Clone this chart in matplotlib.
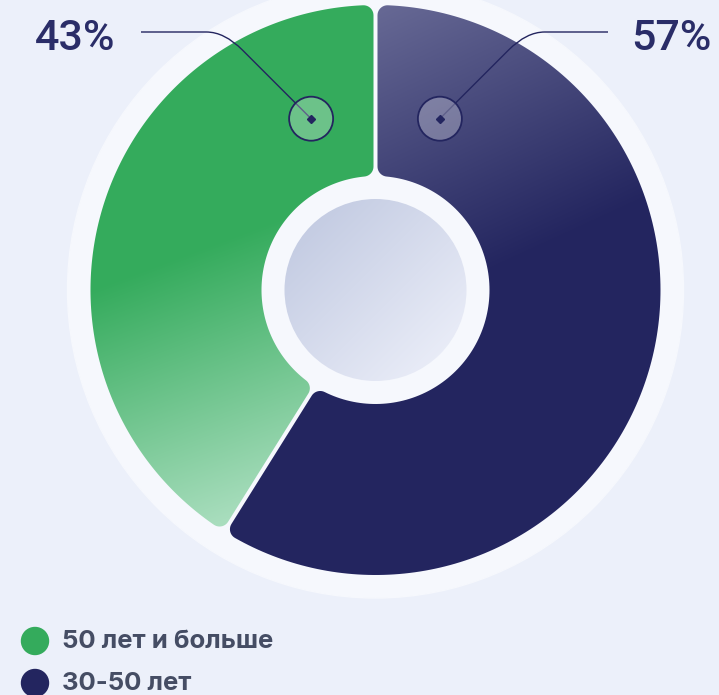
import numpy as np
import matplotlib
matplotlib.use('Agg')
from matplotlib import pyplot as plt
from matplotlib.patches import Circle, Polygon, PathPatch
from matplotlib.path import Path

# data
shares = [41.1, 58.9]            # drawn sweep of each slice (green, navy)
pct_labels = ['43%', '57%']
legend_labels = ['50 лет и больше', '30-50 лет']

W, H = 719, 695
CX, CY = 375.5, 290.0
R_OUT, R_IN, R_HOLE, R_RING = 285.0, 114.0, 91.0, 308.0
GAP, RC = 4.0, 10.0

BG = '#ecf0fa'
RING = '#f6f8fd'
NAVY = '#23255f'
GREEN = '#34ab5c'

plt.rcParams['font.family'] = ['Inter', 'DejaVu Sans']


def to_px(X, Y):
    return CX + X, CY - Y


def arc(c, p_from, p_to, n=12):
    a0 = np.arctan2(p_from[1] - c[1], p_from[0] - c[0])
    a1 = np.arctan2(p_to[1] - c[1], p_to[0] - c[0])
    d = (a1 - a0 + np.pi) % (2 * np.pi) - np.pi
    r = np.hypot(p_from[0] - c[0], p_from[1] - c[1])
    t = np.linspace(a0, a0 + d, n)
    return np.column_stack([c[0] + r * np.cos(t), c[1] + r * np.sin(t)])


def corner(u, nrm, r_circ, outer):
    g = GAP / 2
    if outer:
        t = np.sqrt((r_circ - RC) ** 2 - (g + RC) ** 2)
    else:
        t = np.sqrt((r_circ + RC) ** 2 - (g + RC) ** 2)
    c = t * u + (g + RC) * nrm
    on_circle = c * r_circ / np.linalg.norm(c)
    on_edge = t * u + g * nrm
    return c, on_circle, on_edge


def sector(a1, a2):
    u1 = np.array([np.cos(a1), np.sin(a1)])
    n1 = np.array([-np.sin(a1), np.cos(a1)])
    u2 = np.array([np.cos(a2), np.sin(a2)])
    n2 = np.array([np.sin(a2), -np.cos(a2)])
    c1o, p1o_c, p1o_e = corner(u1, n1, R_OUT, True)
    c2o, p2o_c, p2o_e = corner(u2, n2, R_OUT, True)
    c2i, p2i_c, p2i_e = corner(u2, n2, R_IN, False)
    c1i, p1i_c, p1i_e = corner(u1, n1, R_IN, False)
    pts = [arc(c1o, p1o_e, p1o_c)]
    b0 = np.arctan2(p1o_c[1], p1o_c[0])
    b1 = np.arctan2(p2o_c[1], p2o_c[0])
    b1 = b0 + (b1 - b0) % (2 * np.pi)
    t = np.linspace(b0, b1, 200)
    pts.append(np.column_stack([R_OUT * np.cos(t), R_OUT * np.sin(t)]))
    pts.append(arc(c2o, p2o_c, p2o_e))
    pts.append(arc(c2i, p2i_e, p2i_c))
    b0 = np.arctan2(p2i_c[1], p2i_c[0])
    b1 = np.arctan2(p1i_c[1], p1i_c[0])
    b0 = b1 + (b0 - b1) % (2 * np.pi)
    t = np.linspace(b0, b1, 120)
    pts.append(np.column_stack([R_IN * np.cos(t), R_IN * np.sin(t)]))
    pts.append(arc(c1i, p1i_c, p1i_e))
    xy = np.vstack(pts)
    return np.column_stack(to_px(xy[:, 0], xy[:, 1]))


def gradient(c0, c1, p_start, p_end):
    # linear gradient from point p_start (colour c0) to p_end (colour c1)
    yy, xx = np.mgrid[0:H, 0:W] + 0.5
    dx, dy = p_end[0] - p_start[0], p_end[1] - p_start[1]
    t = ((xx - p_start[0]) * dx + (yy - p_start[1]) * dy) / (dx * dx + dy * dy)
    t = np.clip(t, 0, 1)[..., None]
    c0 = np.array(matplotlib.colors.to_rgb(c0))
    c1 = np.array(matplotlib.colors.to_rgb(c1))
    return c0 * (1 - t) + c1 * t


fig = plt.figure(figsize=(W / 100, H / 100), dpi=100)
fig.patch.set_facecolor(BG)
ax = fig.add_axes([0, 0, 1, 1])
ax.set_xlim(0, W)
ax.set_ylim(H, 0)
ax.axis('off')

ax.add_patch(Circle((CX, CY), R_RING, color=RING, zorder=1))

grads = [
    gradient(GREEN, '#a8ddbd', (106, 284), (198, 529)),
    gradient('#666894', NAVY, (386, 7), (505, 265)),
]
start = np.pi / 2
for share, img in zip(shares, grads):
    sweep = share / 100 * 2 * np.pi
    poly = Polygon(sector(start, start + sweep), closed=True,
                   facecolor='none', edgecolor='none', zorder=2)
    ax.add_patch(poly)
    im = ax.imshow(img, extent=(0, W, H, 0), zorder=2, interpolation='bilinear')
    im.set_clip_path(poly)
    start += sweep

hole = Circle((CX, CY), R_HOLE, facecolor='none', edgecolor='none', zorder=3)
ax.add_patch(hole)
im = ax.imshow(gradient('#c3cbe2', '#eaedf8', (CX - 70, CY - 70), (CX + 70, CY + 70)),
               extent=(0, W, H, 0), zorder=3, interpolation='bilinear')
im.set_clip_path(hole)

# label anchors and leader lines
anchor_r, anchor_off = 183.0, np.radians(20.6)
for side, label in zip([-1, 1], pct_labels):
    ang = np.pi / 2 - side * anchor_off
    mx, my = to_px(anchor_r * np.cos(ang), anchor_r * np.sin(ang))
    ly = 32.0
    kx = mx + side * (my - ly)
    bend = 18.0
    end_x = 608 if side > 0 else 141
    verts = [(mx, my), (kx - side * bend, ly + bend), (kx, ly),
             (kx + side * bend, ly), (end_x, ly)]
    codes = [Path.MOVETO, Path.LINETO, Path.CURVE3, Path.CURVE3, Path.LINETO]
    ax.add_patch(PathPatch(Path(verts, codes), facecolor='none',
                           edgecolor=NAVY, lw=1.0, zorder=5))
    ax.add_patch(Circle((mx, my), 22, facecolor=(1, 1, 1, 0.28),
                        edgecolor=NAVY, lw=1.3, zorder=5))
    ax.plot(mx, my, marker='D', ms=4.5, color=NAVY, zorder=6)
    tx, ha = (35, 'left') if side < 0 else (712, 'right')
    ax.text(tx, 38, label, ha=ha, va='center', fontsize=31,
            fontweight='medium', color='#2a2d68', zorder=6,
            family=['Roboto', 'DejaVu Sans'])

# legend
for i, (lab, col) in enumerate(zip(legend_labels, [GREEN, NAVY])):
    y = 641 + i * 42
    ax.add_patch(Circle((35, y), 13.5, color=col, zorder=5))
    ax.text(62, y + 1, lab, ha='left', va='center', fontsize=18.5,
            fontweight='bold', color='#454d64', zorder=6)

fig.savefig('out.png', dpi=100, facecolor=BG)
